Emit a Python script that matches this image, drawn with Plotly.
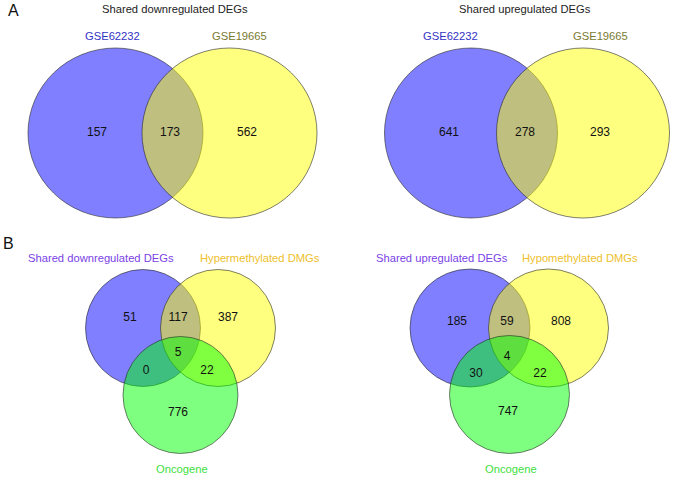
import plotly.graph_objects as go

# ---- data ----
titles_a = ["Shared downregulated DEGs", "Shared upregulated DEGs"]
sets_a = ["GSE62232", "GSE19665"]
counts_a_down = [157, 173, 562]          # only A, A&B, only B
counts_a_up = [641, 278, 293]

sets_b_down = ["Shared downregulated DEGs", "Hypermethylated DMGs", "Oncogene"]
sets_b_up = ["Shared upregulated DEGs", "Hypomethylated DMGs", "Oncogene"]
# order: only1, 1&2, only2, 1&2&3, 1&3, 2&3, only3
counts_b_down = [51, 117, 387, 5, 0, 22, 776]
counts_b_up = [185, 59, 808, 4, 30, 22, 747]

# ---- layout geometry (pixels) ----
W, H = 677, 479
FONT = "Liberation Sans, Arial, Helvetica, sans-serif"

fig = go.Figure()
shapes = []
annotations = []

def circle(cx, cy, rx, ry, fill, line):
    shapes.append(dict(type="circle", xref="x", yref="y",
                       x0=cx - rx, x1=cx + rx, y0=cy - ry, y1=cy + ry,
                       fillcolor=fill, line=dict(color=line, width=0.8), layer="below"))

def label(x, y, text, color, size=11.2):
    annotations.append(dict(x=x, y=y, xref="x", yref="y", text=text, showarrow=False,
                            font=dict(family=FONT, size=size, color=color),
                            xanchor="center", yanchor="middle"))

BLUE = "rgba(0,0,255,0.5)"
YEL = "rgba(255,255,0,0.5)"
GRN = "rgba(0,255,0,0.5)"
EDGE = "rgba(40,40,40,0.75)"

# Panel A
a_panels = [
    dict(title=titles_a[0], counts=counts_a_down, c1=(115.5, 133), c2=(229.5, 133), r=(87.5, 85),
         tx=175, lx=(112, 239), nx=(97, 170, 247)),
    dict(title=titles_a[1], counts=counts_a_up, c1=(471, 133), c2=(583, 133), r=(86.5, 85),
         tx=525, lx=(450, 600), nx=(449, 525, 600)),
]
for p in a_panels:
    circle(p["c1"][0], p["c1"][1], p["r"][0], p["r"][1], BLUE, EDGE)
    circle(p["c2"][0], p["c2"][1], p["r"][0], p["r"][1], YEL, EDGE)
    label(p["tx"], 9, p["title"], "#222222")
    label(p["lx"][0], 36, sets_a[0], "#3333C4")
    label(p["lx"][1], 36, sets_a[1], "#7A7A30")
    fig.add_trace(go.Scatter(x=list(p["nx"]), y=[133, 133, 133], mode="text",
                             text=[str(v) for v in p["counts"]],
                             textfont=dict(family=FONT, size=12, color="#111111"),
                             hoverinfo="skip", showlegend=False))

# Panel B
b_panels = [
    dict(names=sets_b_down, counts=counts_b_down,
         c=[(143, 328), (218, 328), (180.5, 395)], r=(57.5, 58.5),
         lx=[(101, 258), (260, 258), (182, 469)],
         pos=[(130, 318), (178, 318), (228, 318), (178, 353), (146, 371), (207, 371), (178, 413)]),
    dict(names=sets_b_up, counts=counts_b_up,
         c=[(470, 328), (548.5, 328), (509.5, 394.5)], r=(60, 59),
         lx=[(442, 258), (580, 258), (511, 469)],
         pos=[(457, 322), (507, 322), (561, 322), (507, 357), (476, 374), (540, 374), (508, 412)]),
]
for p in b_panels:
    for (cx, cy), col in zip(p["c"], [BLUE, YEL, GRN]):
        circle(cx, cy, p["r"][0], p["r"][1], col, EDGE)
    label(p["lx"][0][0], p["lx"][0][1], p["names"][0], "#7A3FE6")
    label(p["lx"][1][0], p["lx"][1][1], p["names"][1], "#EEC02A")
    label(p["lx"][2][0], p["lx"][2][1], p["names"][2], "#3EE03E")
    fig.add_trace(go.Scatter(x=[q[0] for q in p["pos"]], y=[q[1] for q in p["pos"]], mode="text",
                             text=[str(v) for v in p["counts"]],
                             textfont=dict(family=FONT, size=12, color="#111111"),
                             hoverinfo="skip", showlegend=False))

label(13, 10, "A", "#111111", 16)
label(8.5, 243, "B", "#111111", 16)

fig.update_layout(
    width=W, height=H, margin=dict(l=0, r=0, t=0, b=0),
    paper_bgcolor="white", plot_bgcolor="white",
    xaxis=dict(range=[0, W], visible=False, fixedrange=True),
    yaxis=dict(range=[H, 0], visible=False, fixedrange=True),
    shapes=shapes, annotations=annotations, showlegend=False,
)
fig.write_html("out.html", config={"displayModeBar": False},
               post_script="document.body.style.margin='0';document.body.style.overflow='hidden';")
